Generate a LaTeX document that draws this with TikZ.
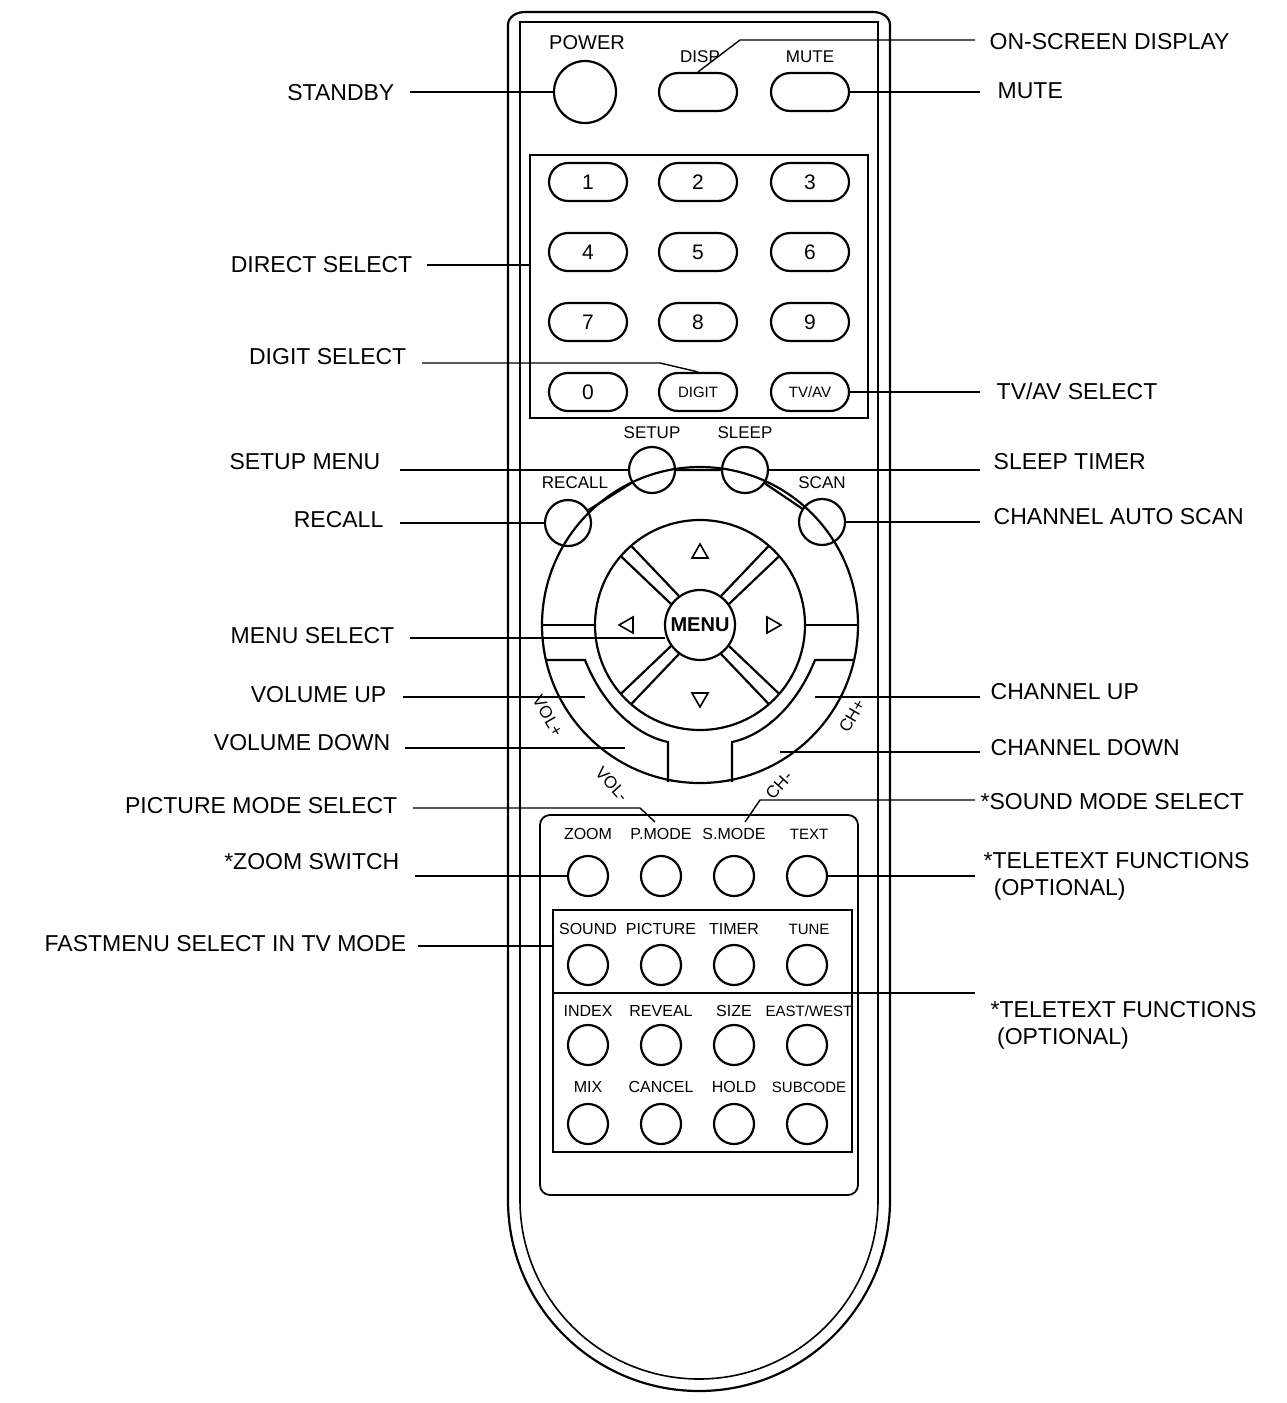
\documentclass[tikz,border=0pt]{standalone}
\usepackage{fontspec}
\setmainfont{Liberation Sans}
\usetikzlibrary{calc}
\newcommand\ewlbl{EAST/WEST}
\begin{document}
\begin{tikzpicture}[x=1pt,y=-1pt,line width=2.2pt,
 lbl/.style={font=\fontsize{23}{27}\selectfont,inner sep=0pt},
 bl/.style={font=\fontsize{17}{19}\selectfont,inner sep=0pt},
 cl/.style={line width=1.4pt},
 oval/.style={draw,rounded corners=19pt,minimum width=78pt,minimum height=38pt,inner sep=0pt,font=\fontsize{21}{23}\selectfont},
 btn/.style={draw,circle,minimum size=#1,inner sep=0pt}]
\useasboundingbox (0,0) rectangle (1287,1403);
% body
\draw (508,1200) -- (508,25) to[out=90,in=180] (525,12) -- (873,12) to[out=0,in=90] (890,25) -- (890,1200) arc[start angle=0,end angle=180,radius=191] -- cycle;
\draw[line width=1.6pt] (520,1200) -- (520,22) -- (878,22) -- (878,1200) arc[start angle=0,end angle=180,radius=179];
% top buttons
\node[btn=62pt] (pw) at (585,92) {};
\node[bl,font=\fontsize{20}{22}\selectfont] at (587,43) {POWER};
\node[oval] (disp) at (698,92) {};
\node[oval] (mute) at (810,92) {};
\node[bl] at (700,57) {DISP};
\node[bl] at (810,57) {MUTE};
% number panel
\draw[line width=1.8pt] (530,155) rectangle (868,418);
\foreach \t/\x/\y in {1/588/182,2/698/182,3/810/182,4/588/252,5/698/252,6/810/252,7/588/322,8/698/322,9/810/322,0/588/392}
  \node[oval] (n\t) at (\x,\y) {\t};
\node[oval,font=\fontsize{15}{17}\selectfont] (digit) at (698,392) {DIGIT};
\node[oval,font=\fontsize{15}{17}\selectfont] (tvav) at (810,392) {TV/AV};
% ring buttons
\node[btn=46pt] (setup) at (652,470) {};
\node[btn=46pt] (sleep) at (745,470) {};
\node[btn=46pt] (recall) at (568,523) {};
\node[btn=46pt] (scan) at (822,522) {};
\draw (recall) -- (setup) -- (sleep) -- (scan);
\node[bl] at (652,433) {SETUP};
\node[bl] at (745,433) {SLEEP};
\node[bl] at (575,483) {RECALL};
\node[bl] at (822,483) {SCAN};
% navigation
\coordinate (c) at (700,625);
\draw (c) circle[radius=158];
\draw (c) circle[radius=105];
\node[btn=70pt,font=\fontsize{20}{22}\selectfont\bfseries] (menu) at (c) {MENU};
\draw (542,625) -- (595,625) (805,625) -- (858,625);
\foreach \a in {45,135,225,315}{
  \draw ($(c)+(\a+9:36)$) -- ($(c)+(\a+4:105)$);
  \draw ($(c)+(\a-9:36)$) -- ($(c)+(\a-4:105)$);}
\draw[line width=1.6pt] (692,558) -- (708,558) -- (700,544) -- cycle;
\draw[line width=1.6pt] (692,693) -- (708,693) -- (700,707) -- cycle;
\draw[line width=1.6pt] (633,617) -- (633,633) -- (619,625) -- cycle;
\draw[line width=1.6pt] (767,617) -- (767,633) -- (781,625) -- cycle;
\draw (546,660) -- (585,660) .. controls (603,705) and (635,735) .. (668,742) -- (668,782);
\draw (854,660) -- (815,660) .. controls (797,705) and (765,735) .. (732,742) -- (732,782);
\node[bl,rotate=-60] at (548,716) {VOL+};
\node[bl,rotate=-48] at (612,784) {VOL-};
\node[bl,rotate=60] at (852,716) {CH+};
\node[bl,rotate=48] at (779,785) {CH-};
% lower panel
\draw[line width=1.8pt,rounded corners=10pt] (540,815) rectangle (858,1195);
\draw[line width=1.6pt] (553,910) rectangle (852,1152);
\draw[line width=1.6pt] (553,993) -- (852,993);
\foreach \r/\ly/\cy/\la/\lb/\lc/\ld in {1/834/876/ZOOM/P.MODE/S.MODE/TEXT,2/929/965/SOUND/PICTURE/TIMER/TUNE,3/1011/1045/INDEX/REVEAL/SIZE/\ewlbl,4/1087/1124/MIX/CANCEL/HOLD/SUBCODE}{
  \node[btn=40pt] (b\r a) at (588,\cy) {};
  \node[btn=40pt] (b\r b) at (661,\cy) {};
  \node[btn=40pt] (b\r c) at (734,\cy) {};
  \node[btn=40pt] (b\r d) at (807,\cy) {};
  \node[bl,font=\fontsize{16}{18}\selectfont] at (588,\ly) {\la};
  \node[bl,font=\fontsize{16}{18}\selectfont] at (661,\ly) {\lb};
  \node[bl,font=\fontsize{16}{18}\selectfont] at (734,\ly) {\lc};
  \node[bl,font=\fontsize{15}{18}\selectfont] at (809,\ly) {\ld};
}
% left callouts
\begin{scope}[cl]
\node[lbl,anchor=east] (l1) at (395,93) {STANDBY};
\draw (410,92) -- (pw.west);
\node[lbl,anchor=east] (l2) at (413,265) {DIRECT SELECT};
\draw (427,265) -- (530,265);
\node[lbl,anchor=east] (l3) at (407,357) {DIGIT SELECT};
\draw (422,363) -- (660,363) -- (digit.north);
\node[lbl,anchor=east] (l4) at (381,462) {SETUP MENU};
\draw (400,470) -- (setup.west);
\node[lbl,anchor=east] (l5) at (384,520) {RECALL};
\draw (400,523) -- (recall.west);
\node[lbl,anchor=east] (l6) at (395,636) {MENU SELECT};
\draw (410,638) -- (665,638);
\node[lbl,anchor=east] (l7) at (387,695) {VOLUME UP};
\draw (403,697) -- (585,697);
\node[lbl,anchor=east] (l8) at (391,743) {VOLUME DOWN};
\draw (405,748) -- (625,748);
\node[lbl,anchor=east] (l9) at (398,806) {PICTURE MODE SELECT};
\draw (413,808) -- (640,808) -- (655,822);
\node[lbl,anchor=east] (l10) at (400,862) {*ZOOM SWITCH};
\draw (415,876) -- (b1a.west);
\node[lbl,anchor=east] (l11) at (407,944) {FASTMENU SELECT IN TV MODE};
\draw (418,946) -- (553,946);
% right callouts
\node[lbl,anchor=west] (r1) at (989,42) {ON-SCREEN DISPLAY};
\draw (975,40) -- (740,40) -- (disp.north);
\node[lbl,anchor=west] (r2) at (997,91) {MUTE};
\draw (980,92) -- (mute.east);
\node[lbl,anchor=west] (r3) at (996,391) {TV/AV SELECT};
\draw (980,392) -- (tvav.east);
\node[lbl,anchor=west] (r4) at (993,462) {SLEEP TIMER};
\draw (980,470) -- (sleep.east);
\node[lbl,anchor=west] (r5) at (993,517) {CHANNEL AUTO SCAN};
\draw (980,522) -- (scan.east);
\node[lbl,anchor=west] (r6) at (990,692) {CHANNEL UP};
\draw (980,697) -- (815,697);
\node[lbl,anchor=west] (r7) at (990,748) {CHANNEL DOWN};
\draw (980,752) -- (780,752);
\node[lbl,anchor=west] (r8) at (980,802) {*SOUND MODE SELECT};
\draw (975,800) -- (760,800) -- (745,822);
\node[lbl,anchor=west,align=left] (r9) at (983,876) {*TELETEXT FUNCTIONS\\\ \,(OPTIONAL)};
\draw (975,876) -- (b1d.east);
\node[lbl,anchor=west,align=left] (r10) at (990,1025) {*TELETEXT FUNCTIONS\\\ (OPTIONAL)};
\draw (975,993) -- (852,993);
\end{scope}
\end{tikzpicture}
\end{document}
